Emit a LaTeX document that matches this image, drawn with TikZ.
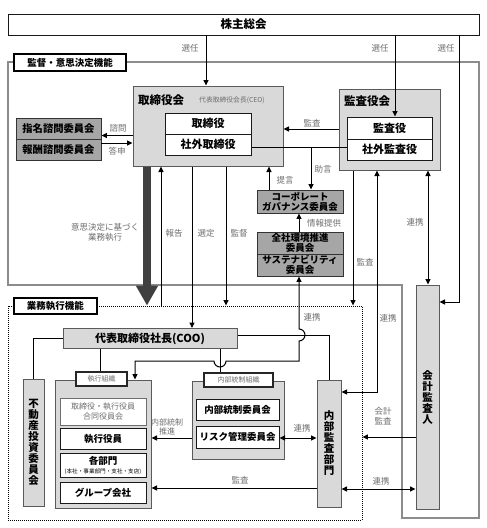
\documentclass[tikz,border=0pt]{standalone}
\usepackage{fontspec}
\setmainfont{Noto Sans CJK JP}
\usetikzlibrary{arrows.meta}
\definecolor{lightg}{HTML}{D9D9D9}
\definecolor{darkg}{HTML}{A6A6A6}
\definecolor{frameg}{HTML}{8C8C8C}
\definecolor{bordg}{HTML}{5A5A5A}
\definecolor{labc}{HTML}{6E6E6E}
\definecolor{thickc}{HTML}{404040}
\tikzset{
  lbl/.style={text=labc, inner sep=0pt, align=center, font=\fontsize{8.5}{10}\selectfont},
  wbox/.style={draw=black!90, line width=1pt, fill=white, inner sep=0pt, align=center, font=\bfseries\fontsize{11}{12}\selectfont},
  ebox/.style={wbox, font=\bfseries\fontsize{9.5}{11}\selectfont},
  gbox/.style={draw=bordg, line width=1pt, fill=lightg, inner sep=0pt, align=center},
  dbox/.style={draw=black!80, line width=0.9pt, fill=darkg, inner sep=0pt, align=center, font=\bfseries\fontsize{9.5}{10}\selectfont},
  tagbox/.style={draw=black, line width=1.2pt, fill=white, inner sep=0pt, font=\bfseries\fontsize{9.5}{11}\selectfont},
  subtag/.style={draw=black!85, line width=1.3pt, fill=white, inner sep=0pt, text=labc, font=\fontsize{7}{8}\selectfont},
  ttl/.style={inner sep=0pt, font=\bfseries\fontsize{11.5}{12}\selectfont},
  vert/.style={gbox, font=\bfseries\fontsize{10.5}{11}\selectfont},
  ln/.style={line width=1pt, black},
  arr/.style={ln, -{Triangle[length=5.5pt,width=5pt]}},
  arrb/.style={ln, {Triangle[length=5.5pt,width=5pt]}-{Triangle[length=5.5pt,width=5pt]}}
}
\begin{document}
\begin{tikzpicture}[x=1pt,y=-1pt]
\useasboundingbox (0,0) rectangle (487,528);
\fill[white] (0,0) rectangle (487,528);

% frames
\draw[frameg, line width=1.5pt] (8,62) -- (479,62) -- (479,518) -- (402,518) -- (402,285) -- (8,285) -- cycle;
\node[draw=black, line width=0.9pt, dash pattern=on 1pt off 1pt, minimum width=354pt, minimum height=214pt, inner sep=0pt] (gframe) at (185,413) {};

% guides
\coordinate (gA) at (206,0);
\coordinate (gB) at (395,0);
\coordinate (gC) at (459,302);
\coordinate (gQ1) at (0,135.5);
\coordinate (gQ2) at (0,143);
\coordinate (gK) at (0,129);
\coordinate (gL) at (0,147);
\coordinate (gJ) at (311,0);
\coordinate (gT) at (269,0);
\coordinate (gI) at (299,0);
\coordinate (gThick) at (147,0);
\coordinate (gHou) at (161,0);
\coordinate (gSen) at (192,0);
\coordinate (gKan) at (226,0);
\coordinate (gKs) at (353,0);
\coordinate (gR1) at (377,392);
\coordinate (gR2) at (428,0);
\coordinate (gCoo2) at (100,0);
\coordinate (gCoo3) at (220,0);
\coordinate (gY335) at (0,335);
\coordinate (gExec) at (135,361);
\coordinate (h1) at (214,361);
\coordinate (h2) at (299,341);
\coordinate (h3) at (299,361);
\coordinate (gSi) at (0,438);
\coordinate (gKansa) at (0,488);
\coordinate (gKai) at (0,437);
\coordinate (gRen) at (0,489);

% top
\node[wbox, line width=0.8pt, minimum width=471pt, minimum height=21pt, font=\bfseries\fontsize{11.5}{12}\selectfont] (soukai) at (243.5,24.5) {株主総会};

% frame tags
\node[tagbox, minimum width=112pt, minimum height=17pt] (kantokutag) at (70,62.5) {監督・意思決定機能};
\node[tagbox, minimum width=83pt, minimum height=16pt] (gyoumutag) at (55.5,306) {業務執行機能};

% board
\node[gbox, minimum width=150pt, minimum height=80pt] (torikai) at (208,126) {};
\node[ttl, anchor=west] (torikaiT) at (138,100) {取締役会};
\node[inner sep=0pt, text=labc, anchor=west, font=\fontsize{6.8}{8}\selectfont] (ceo) at (199,100) {代表取締役会長(CEO)};
\node[wbox, minimum width=86pt, minimum height=21pt] (tori) at (208,123.5) {取締役};
\node[wbox, minimum width=86pt, minimum height=21pt] (shagaitori) at (208,144.5) {社外取締役};

% auditors
\node[gbox, minimum width=101pt, minimum height=81pt] (kansakai) at (389.5,129.5) {};
\node[ttl, anchor=west] (kansakaiT) at (344,101) {監査役会};
\node[wbox, minimum width=85pt, minimum height=22pt] (kansa) at (389.5,128) {監査役};
\node[wbox, minimum width=85pt, minimum height=21pt] (shagaikansa) at (389.5,149.5) {社外監査役};

% advisory committees
\node[dbox, minimum width=85pt, minimum height=21pt, font=\bfseries\fontsize{10.3}{11}\selectfont] (shimei) at (58.5,129) {指名諮問委員会};
\node[dbox, minimum width=85pt, minimum height=21pt, font=\bfseries\fontsize{10.3}{11}\selectfont] (houshu) at (58.5,150) {報酬諮問委員会};

% CG, sustainability
\node[dbox, minimum width=86pt, minimum height=23pt] (cg) at (300,201.5) {コーポレート\\ガバナンス委員会};
\node[dbox, minimum width=86pt, minimum height=22pt] (kankyo) at (300,243) {全社環境推進\\委員会};
\node[dbox, minimum width=86pt, minimum height=22pt] (sustain) at (300,265) {サステナビリティ\\委員会};

% accounting auditor
\node[vert, minimum width=23pt, minimum height=224pt] (kaikei) at (427.5,397) {会\\計\\監\\査\\人};

% execution
\node[gbox, minimum width=174pt, minimum height=20pt, font=\bfseries\fontsize{11}{12}\selectfont] (coo) at (150,338.5) {代表取締役社長(COO)};
\node[vert, minimum width=21pt, minimum height=127pt] (fudousan) at (33.5,442.5) {不\\動\\産\\投\\資\\委\\員\\会};

\node[gbox, minimum width=96pt, minimum height=128pt] (shikko) at (103,444) {};
\node[subtag, minimum width=51pt, minimum height=14pt] (shikkotag) at (101.5,379) {執行組織};
\node[wbox, draw=labc, line width=0.8pt, minimum width=86pt, minimum height=27pt, text=labc, font=\fontsize{8}{10.5}\selectfont] (goudou) at (103,411.5) {取締役・執行役員\\合同役員会};
\node[ebox, minimum width=86pt, minimum height=21pt] (shikkoyaku) at (103,438.5) {執行役員};
\node[ebox, minimum width=86pt, minimum height=24pt] (kakubu) at (103,465) {各部門\\[-2pt]{\mdseries\fontsize{5.6}{6}\selectfont (本社・事業部門・支社・支店)}};
\node[ebox, minimum width=86pt, minimum height=21pt] (group) at (103,492.5) {グループ会社};

\node[gbox, minimum width=92pt, minimum height=78pt] (naibu) at (238,420) {};
\node[subtag, minimum width=69pt, minimum height=14pt] (naibutag) at (238.5,380) {内部統制組織};
\node[ebox, minimum width=83pt, minimum height=21pt] (naibuiin) at (237.5,409.5) {内部統制委員会};
\node[ebox, minimum width=83pt, minimum height=22pt] (risk) at (237.5,437) {リスク管理委員会};

\node[vert, minimum width=24pt, minimum height=127pt] (kansabu) at (329,443.5) {内\\部\\監\\査\\部\\門};

% connectors
\draw[arr] (soukai.south -| gA) -- (torikai.north -| gA);
\draw[arr] (soukai.south -| gB) -- (kansa.north -| gB);
\draw[arr] (soukai.south -| gC) |- (kaikei.east |- gC);
\draw[arr] (torikai.west |- gQ1) -- (shimei.east |- gQ1);
\draw[arr] (houshu.east |- gQ2) -- (torikai.west |- gQ2);
\draw[arr] (kansakai.west |- gK) -- (torikai.east |- gK);
\draw[ln] (shagaitori.east |- gL) -- (shagaikansa.west |- gL);
\draw[arr] (gL -| gJ) -- (cg.north -| gJ);
\draw[arr] (cg.north -| gT) -- (torikai.south -| gT);
\draw[arr] (kankyo.north -| gI) -- (cg.south -| gI);
\draw[thickc, line width=8pt, -{Triangle[length=20pt,width=21pt]}] (torikai.south -| gThick) -- (gframe.north -| gThick);
\draw[arr] (gframe.north -| gHou) -- (torikai.south -| gHou);
\draw[arr] (torikai.south -| gSen) -- (coo.north -| gSen);
\draw[arr] (torikai.south -| gKan) -- (gframe.north -| gKan);
\draw[arr] (kansakai.south -| gKs) -- (gframe.north -| gKs);
\draw[arrb] (kansakai.south -| gR1) |- (kansabu.east |- gR1);
\draw[arrb] (kansakai.south -| gR2) -- (kaikei.north -| gR2);
\draw[ln] (coo.west) -| (fudousan.north);
\draw[ln] (coo.south -| gCoo2) -- (shikkotag.north -| gCoo2);
\draw[ln] (coo.south -| gCoo3) -- (naibutag.north -| gCoo3);
\draw[ln] (coo.east |- gY335) -| (kansabu.north);
\draw[arrb] (shikko.north -| gExec) -- (gExec) -- (h1) arc[start angle=180, end angle=360, radius=6pt] -- (h3) -- (h2) arc[start angle=-90, end angle=90, radius=6pt] -- (sustain.south -| gI);
\draw[arr] (naibu.west |- gSi) -- (shikko.east |- gSi);
\draw[arrb] (risk.east |- gSi) -- (kansabu.west |- gSi);
\draw[arr] (kansabu.west |- gKansa) -- (shikko.east |- gKansa);
\draw[arr] (kaikei.west |- gKai) -- (gframe.east |- gKai);
\draw[arrb] (kansabu.east |- gRen) -- (kaikei.west |- gRen);

% labels
\node[lbl] (l1) at (190,48) {選任};
\node[lbl] (l2) at (380,48) {選任};
\node[lbl] (l3) at (446,48) {選任};
\node[lbl] (l4) at (118,128) {諮問};
\node[lbl] (l5) at (117,151) {答申};
\node[lbl] (l6) at (312,123) {監査};
\node[lbl] (l7) at (323,169) {助言};
\node[lbl] (l8) at (285,180) {提言};
\node[lbl] (l9) at (324,223) {情報提供};
\node[lbl] (l10) at (105,232) {意思決定に基づく\\業務執行};
\node[lbl] (l11) at (174,233) {報告};
\node[lbl] (l12) at (206,233) {選定};
\node[lbl] (l13) at (239,233) {監督};
\node[lbl] (l14) at (365,262) {監査};
\node[lbl] (l15) at (388,318) {連携};
\node[lbl] (l16) at (415,222) {連携};
\node[lbl] (l17) at (312,317) {連携};
\node[lbl, font=\fontsize{8}{9.5}\selectfont] (l18) at (167,427) {内部統制\\推進};
\node[lbl] (l19) at (302,428) {連携};
\node[lbl] (l20) at (240,480) {監査};
\node[lbl] (l21) at (383,416) {会計\\監査};
\node[lbl] (l22) at (381,481) {連携};
\end{tikzpicture}
\end{document}
